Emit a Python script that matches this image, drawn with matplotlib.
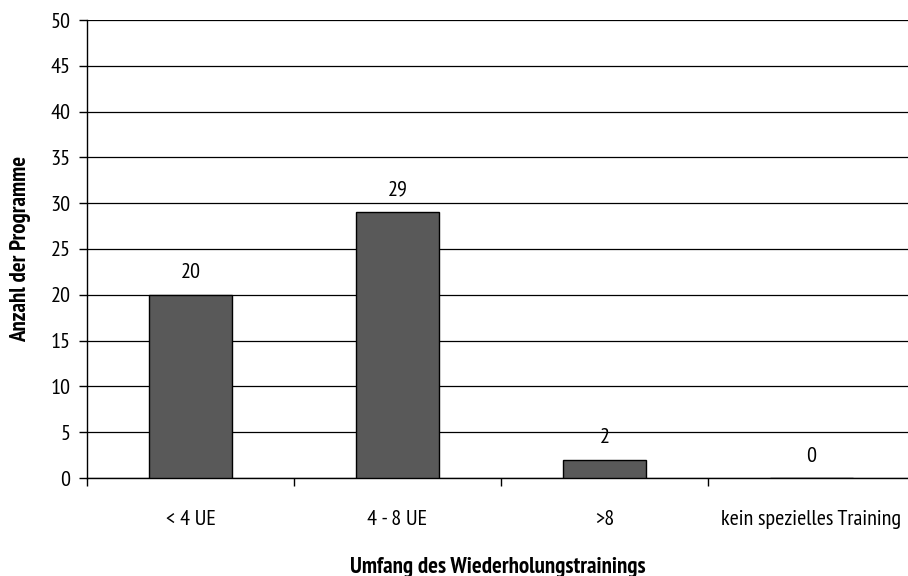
import matplotlib
matplotlib.use("Agg")
import matplotlib.pyplot as plt
import numpy as np

categories = ["< 4 UE", "4 - 8 UE", ">8", "kein spezielles Training"]
values = [20, 29, 2, 0]
y_ticks = list(range(0, 55, 5))

plt.rcParams['font.family'] = ['PT Sans Narrow', 'DejaVu Sans']

fig = plt.figure(figsize=(9.08, 5.76), dpi=100)
ax = fig.add_axes([87 / 908, 1 - 478 / 576, 821 / 908, 458 / 576])

x = np.arange(len(categories))
ax.bar(x, values, width=0.4, color="#595959", edgecolor="black", linewidth=1, zorder=3)

for xi, v in zip(x, values):
    ax.annotate(str(v), (xi, v), xytext=(0, 9), textcoords="offset points",
                ha="center", va="bottom", fontsize=16)

ax.set_xlim(-0.5, 3.466)
ax.set_ylim(0, 50)
ax.set_yticks(y_ticks)
ax.tick_params(axis="y", labelsize=16, length=6, width=1, direction="out", pad=6)
ax.yaxis.grid(True, color="black", linewidth=0.9, zorder=0)

# category labels centred, tick marks at boundaries
ax.set_xticks(x)
ax.set_xticklabels(categories, fontsize=16)
ax.tick_params(axis="x", length=0, pad=23)
ax.set_xticks(np.arange(-0.5, 3.5, 1), minor=True)
ax.tick_params(axis="x", which="minor", length=6, width=1, direction="out")

for s in ["top", "right"]:
    ax.spines[s].set_visible(False)
ax.spines["left"].set_linewidth(1)
ax.spines["bottom"].set_linewidth(1)

ax.set_ylabel("Anzahl der Programme", fontsize=16.5, fontweight="bold", labelpad=14)
ax.set_xlabel("Umfang des Wiederholungstrainings", fontsize=16.5, fontweight="bold", labelpad=20)

fig.savefig("out.png", dpi=100)
